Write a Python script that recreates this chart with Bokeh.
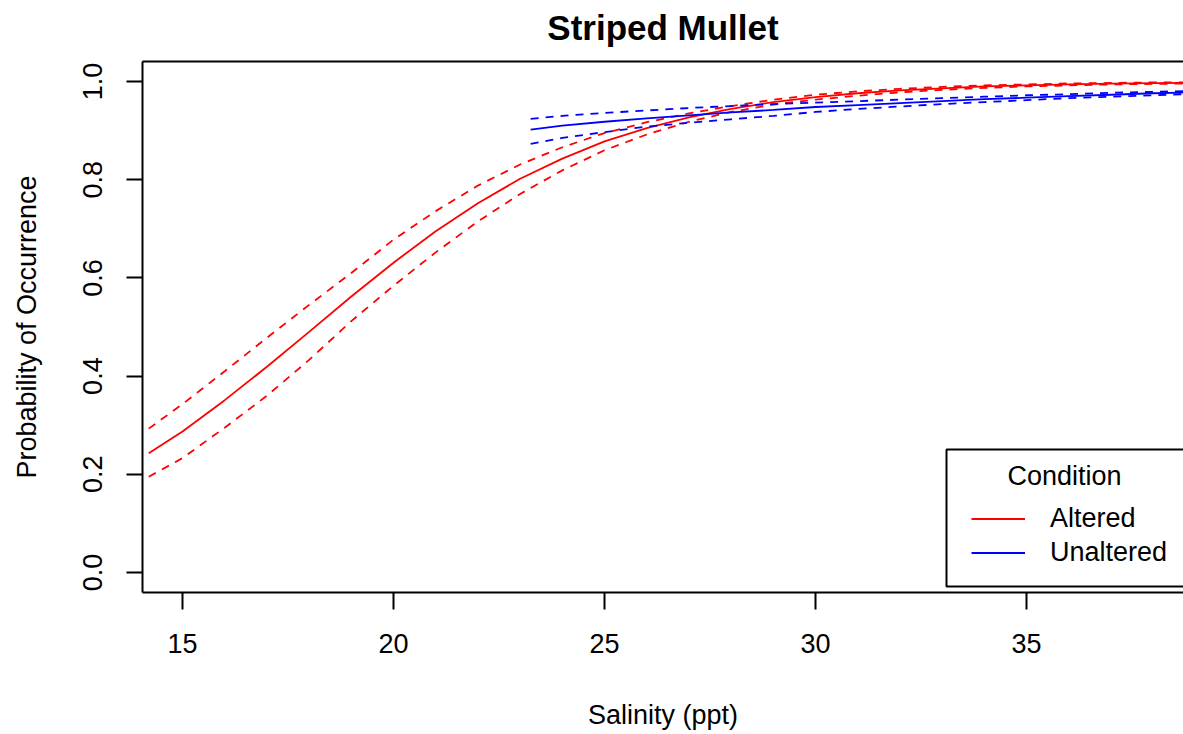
from bokeh.plotting import figure
from bokeh.models import (Range1d, FixedTicker, LinearAxis, Label, BoxAnnotation,
                          Legend, LegendItem)
from bokeh.embed import file_html
from bokeh.resources import INLINE

# ---------------- data ----------------
altered_salinity = [14.2, 15, 16, 17, 18, 19, 20, 21, 22, 23, 24, 25, 26, 27, 28,
                    29, 30, 31, 32, 33, 34, 35, 36, 37, 38, 39]
altered_fit = [0.243, 0.287, 0.351, 0.419, 0.490, 0.562, 0.631, 0.695, 0.752, 0.802,
               0.843, 0.878, 0.905, 0.927, 0.944, 0.958, 0.968, 0.976, 0.982, 0.986,
               0.990, 0.992, 0.994, 0.9956, 0.9967, 0.9975]
altered_upper = [0.293, 0.343, 0.410, 0.478, 0.545, 0.610, 0.678, 0.736, 0.788, 0.831,
                 0.866, 0.895, 0.917, 0.935, 0.950, 0.963, 0.973, 0.980, 0.985, 0.989,
                 0.992, 0.994, 0.996, 0.997, 0.998, 0.9985]
altered_lower = [0.195, 0.233, 0.295, 0.360, 0.433, 0.512, 0.584, 0.652, 0.715, 0.771,
                 0.819, 0.860, 0.892, 0.918, 0.938, 0.953, 0.963, 0.971, 0.978, 0.983,
                 0.987, 0.990, 0.992, 0.994, 0.995, 0.996]

unaltered_salinity = [23.25, 24, 25, 26, 27, 28, 29, 30, 31, 32, 33, 34, 35, 36, 37, 38, 39]
unaltered_fit = [0.902, 0.910, 0.918, 0.925, 0.931, 0.937, 0.942, 0.948, 0.952, 0.956,
                 0.960, 0.964, 0.967, 0.970, 0.973, 0.976, 0.978]
unaltered_upper = [0.924, 0.930, 0.936, 0.941, 0.946, 0.950, 0.954, 0.957, 0.960, 0.963,
                   0.966, 0.969, 0.972, 0.974, 0.977, 0.979, 0.981]
unaltered_lower = [0.873, 0.885, 0.897, 0.908, 0.916, 0.923, 0.930, 0.938, 0.944, 0.949,
                   0.954, 0.958, 0.962, 0.966, 0.969, 0.972, 0.975]

x_ticks = [15, 20, 25, 30, 35]
x_tick_labels = ["15", "20", "25", "30", "35"]
y_ticks = [0.0, 0.2, 0.4, 0.6, 0.8, 1.0]
y_tick_labels = ["0.0", "0.2", "0.4", "0.6", "0.8", "1.0"]

title_text = "Striped Mullet"
x_label = "Salinity (ppt)"
y_label = "Probability of Occurrence"
legend_title = "Condition"
series_names = ["Altered", "Unaltered"]

# ---------------- layout / style ----------------
FONT = "Liberation Sans"
RED = "#FF0000"
BLUE = "#0000FF"
X_START, X_END = 14.052, 38.72
Y_START, Y_END = -0.0407, 1.0407

p = figure(width=1183, height=734, output_backend="svg", toolbar_location=None,
           x_range=Range1d(X_START, X_END), y_range=Range1d(Y_START, Y_END),
           min_border_left=142, min_border_right=0, min_border_top=61,
           min_border_bottom=142)
p.outline_line_color = None
p.xgrid.visible = False
p.ygrid.visible = False
p.background_fill_color = "white"
p.border_fill_color = "white"
p.title.visible = False

for ax in (p.xaxis[0], p.yaxis[0]):
    ax.axis_line_color = "black"
    ax.axis_line_width = 2
    ax.major_tick_line_color = "black"
    ax.major_tick_line_width = 2
    ax.major_tick_in = 0
    ax.major_tick_out = 16
    ax.minor_tick_line_color = None
    ax.major_label_text_font = FONT
    ax.major_label_text_font_size = "27px"
    ax.major_label_text_color = "black"
    ax.axis_label_text_font = FONT
    ax.axis_label_text_font_size = "27px"
    ax.axis_label_text_font_style = "normal"
    ax.axis_label_text_color = "black"

p.xaxis[0].ticker = FixedTicker(ticks=x_ticks)
p.xaxis[0].major_label_overrides = {t: s for t, s in zip(x_ticks, x_tick_labels)}
p.xaxis[0].axis_label = x_label
p.xaxis[0].major_tick_out = 17
p.xaxis[0].major_label_standoff = 24
p.xaxis[0].axis_label_standoff = 44

p.yaxis[0].ticker = FixedTicker(ticks=y_ticks)
p.yaxis[0].major_label_overrides = {t: s for t, s in zip(y_ticks, y_tick_labels)}
p.yaxis[0].major_label_orientation = "vertical"
p.yaxis[0].axis_label = y_label
p.yaxis[0].major_label_standoff = 24
p.yaxis[0].axis_label_standoff = 39

# top edge of the box, carrying the chart title
top_axis = LinearAxis(ticker=FixedTicker(ticks=[]), axis_label=title_text,
                      axis_line_color="black", axis_line_width=2,
                      major_tick_out=0, major_tick_in=0, minor_tick_out=0, minor_tick_in=0,
                      major_label_standoff=0, axis_label_standoff=15,
                      axis_label_text_font=FONT, axis_label_text_font_size="35px",
                      axis_label_text_font_style="bold", axis_label_text_color="black")
p.add_layout(top_axis, "above")

DASH = "8 7"
LW = 1.8
r_alt = p.line(altered_salinity, altered_fit, line_color=RED, line_width=LW)
p.line(altered_salinity, altered_upper, line_color=RED, line_width=LW, line_dash=DASH)
p.line(altered_salinity, altered_lower, line_color=RED, line_width=LW, line_dash=DASH)
r_un = p.line(unaltered_salinity, unaltered_fit, line_color=BLUE, line_width=LW)
p.line(unaltered_salinity, unaltered_upper, line_color=BLUE, line_width=LW, line_dash=DASH)
p.line(unaltered_salinity, unaltered_lower, line_color=BLUE, line_width=LW, line_dash=DASH)

# legend box (screen units relative to the frame)
box = BoxAnnotation(left=804, right=1400, bottom=6, top=143,
                    left_units="screen", right_units="screen",
                    bottom_units="screen", top_units="screen",
                    fill_color="white", fill_alpha=1.0,
                    line_color="black", line_width=2, line_alpha=1.0)
p.add_layout(box)
p.add_layout(Label(x=922, y=117, x_units="screen", y_units="screen", text=legend_title,
                   text_align="center", text_baseline="middle",
                   text_font=FONT, text_font_size="27px", text_color="black"))

legend = Legend(items=[LegendItem(label=series_names[0], renderers=[r_alt]),
                       LegendItem(label=series_names[1], renderers=[r_un])],
                location=(829, 24), padding=0, margin=0, spacing=3,
                glyph_width=54, glyph_height=31, label_height=31, label_standoff=25,
                border_line_color=None, background_fill_alpha=0,
                label_text_font=FONT, label_text_font_size="27px", label_text_color="black")
p.add_layout(legend)

open("out.html", "w").write(file_html(p, INLINE))
